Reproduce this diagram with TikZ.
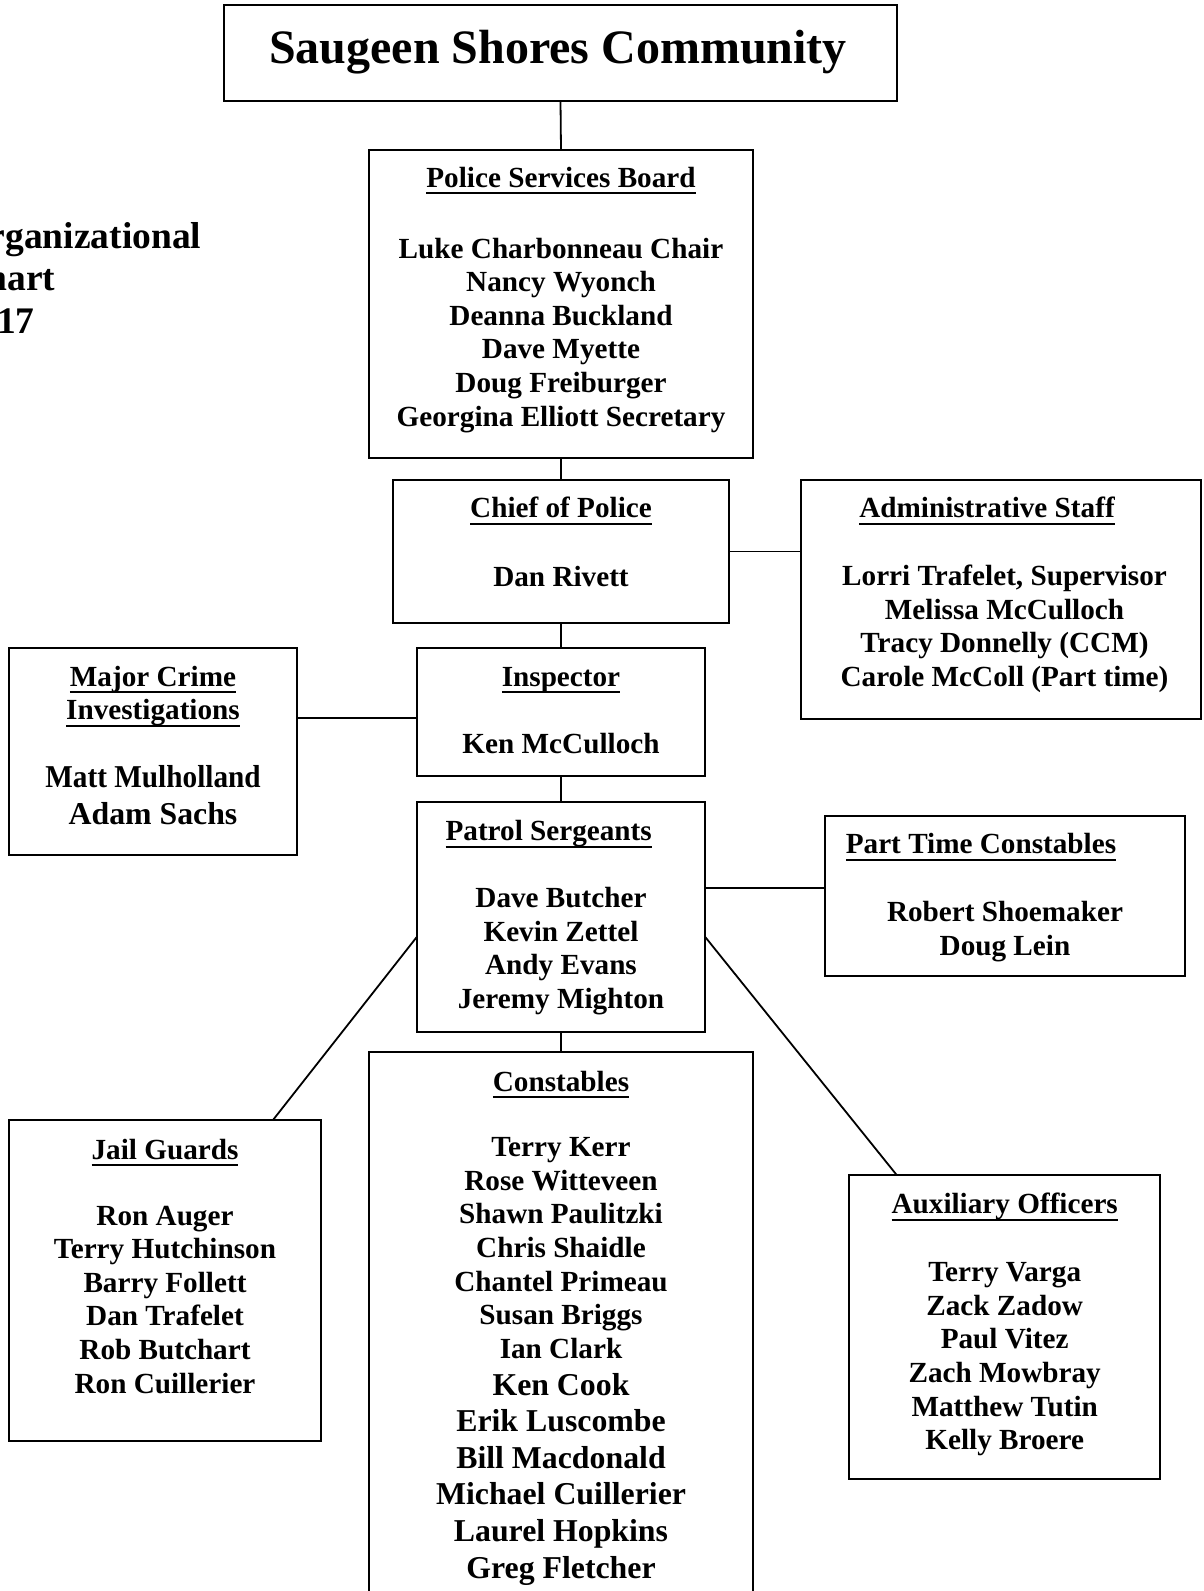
\documentclass[tikz,border=0pt]{standalone}
\usepackage{fontspec}
\usepackage{graphicx}
\setmainfont{Liberation Serif}
\newsavebox\ulbx
\newcommand\ulh[1]{\sbox\ulbx{#1}\rlap{\rule[-7pt]{\wd\ulbx}{2pt}}\usebox\ulbx}
\newcommand\txs{\fontsize{29.2}{33.6}\selectfont\bfseries}
\newcommand\txl{\fontsize{31.8}{36.6}\selectfont\bfseries}
\newcommand\cstack[1]{\vtop{\halign{\hfil##\hfil\cr#1\crcr}}}
\newcommand\lstackx[1]{\vtop{\halign{##\hfil\cr#1\crcr}}}
\begin{document}
\begin{tikzpicture}[x=1pt,y=-1pt,
  box/.style={draw, line width=2pt, rectangle, inner sep=0pt, outer sep=0pt, anchor=north west},
  conn/.style={line width=1.8pt},
  txt/.style={inner sep=0pt, outer sep=0pt, anchor=base, font=\txs},
  txtl/.style={inner sep=0pt, outer sep=0pt, anchor=base, font=\txl}]
\useasboundingbox (0,0) rectangle (1203,1591);
\clip (0,0) rectangle (1203,1591);
% boxes
\node[box, minimum width=673pt, minimum height=96pt] (top) at (224,5) {};
\node[box, minimum width=384pt, minimum height=308pt] (psb) at (369,150) {};
\node[box, minimum width=336pt, minimum height=143pt] (chief) at (393,480) {};
\node[box, minimum width=400pt, minimum height=239pt] (admin) at (801,480) {};
\node[box, minimum width=288pt, minimum height=207pt] (major) at (9,648) {};
\node[box, minimum width=288pt, minimum height=128pt] (insp) at (417,648) {};
\node[box, minimum width=288pt, minimum height=230pt] (patrol) at (417,802) {};
\node[box, minimum width=360pt, minimum height=160pt] (ptc) at (825,816) {};
\node[box, minimum width=384pt, minimum height=600pt] (const) at (369,1052) {};
\node[box, minimum width=312pt, minimum height=321pt] (jail) at (9,1120) {};
\node[box, minimum width=311pt, minimum height=304pt] (aux) at (849,1175) {};
% helper coordinates
\coordinate (majY) at (0,718);
\coordinate (ptcY) at (0,888);
\coordinate (diagY) at (0,936.7);
\coordinate (jailX) at (273,0);
\coordinate (auxX) at (896.7,0);
% connectors
\draw[conn] (top.south) -- (psb.north);
\draw[conn] (psb.south) -- (chief.north);
\draw[conn] (chief.east) -- (admin.west |- chief.east);
\draw[conn] (chief.south) -- (insp.north);
\draw[conn] (insp.west |- majY) -- (major.east |- majY);
\draw[conn] (insp.south) -- (patrol.north);
\draw[conn] (patrol.east |- ptcY) -- (ptc.west |- ptcY);
\draw[conn] (patrol.south) -- (const.north);
\draw[conn] (patrol.west |- diagY) -- (jail.north -| jailX);
\draw[conn] (patrol.east |- diagY) -- (aux.north -| auxX);
% texts
\node[inner sep=0pt, anchor=base, font=\fontsize{48}{55}\selectfont\bfseries] (title) at (558,63) {Saugeen Shores Community};
\node[inner sep=0pt, anchor=base west, font=\fontsize{37.5}{42.6}\selectfont\bfseries] (orgtxt) at (-40.6,248) {\lstackx{Organizational\cr Chart\cr 2017}};
\node[txt] (psbH) at (561,187) {\ulh{Police Services Board}};
\node[txt] (psbN) at (561,258) {\cstack{Luke Charbonneau Chair\cr Nancy Wyonch\cr Deanna Buckland\cr Dave Myette\cr Doug Freiburger\cr Georgina Elliott Secretary}};
\node[txt] (chiefH) at (561,517.5) {\ulh{Chief of Police}};
\node[txt] (chiefN) at (561,586.7) {Dan Rivett};
\node[txt] (adminH) at (987,517.5) {\ulh{Administrative Staff}};
\node[txt] (adminN) at (1004.5,585.7) {\cstack{Lorri Trafelet, Supervisor\cr Melissa McCulloch\cr Tracy Donnelly (CCM)\cr Carole McColl (Part time)}};
\node[txt] (majorH) at (153,686) {\cstack{\ulh{Major Crime}\cr \ulh{Investigations}}};
\node[txtl] (majorN) at (153,787.5) {\cstack{\scalebox{0.92}[1]{Matt Mulholland}\cr Adam Sachs}};
\node[txt] (inspH) at (561,686) {\ulh{Inspector}};
\node[txt] (inspN) at (561,753) {Ken McCulloch};
\node[txt] (patrolH) at (548.7,840.5) {\ulh{Patrol Sergeants}};
\node[txt] (patrolN) at (561,907.4) {\cstack{Dave Butcher\cr Kevin Zettel\cr Andy Evans\cr Jeremy Mighton}};
\node[txt] (ptcH) at (981,853.6) {\ulh{Part Time Constables}};
\node[txt] (ptcN) at (1005,921.7) {\cstack{Robert Shoemaker\cr Doug Lein}};
\node[txt] (constH) at (561,1091) {\ulh{Constables}};
\node[txt] (constN) at (561,1156.7) {\cstack{Terry Kerr\cr Rose Witteveen\cr Shawn Paulitzki\cr Chris Shaidle\cr Chantel Primeau\cr Susan Briggs\cr Ian Clark}};
\node[txtl] (constM) at (561,1395) {\cstack{Ken Cook\cr Erik Luscombe\cr Bill Macdonald\cr Michael Cuillerier\cr Laurel Hopkins\cr Greg Fletcher}};
\node[txt] (jailH) at (165,1159) {\ulh{Jail Guards}};
\node[txt] (jailN) at (165,1225) {\cstack{Ron Auger\cr Terry Hutchinson\cr Barry Follett\cr Dan Trafelet\cr Rob Butchart\cr Ron Cuillerier}};
\node[txt] (auxH) at (1004.7,1213.7) {\ulh{Auxiliary Officers}};
\node[txt] (auxN) at (1004.7,1281.7) {\cstack{Terry Varga\cr Zack Zadow\cr Paul Vitez\cr Zach Mowbray\cr Matthew Tutin\cr Kelly Broere}};
\end{tikzpicture}
\end{document}
